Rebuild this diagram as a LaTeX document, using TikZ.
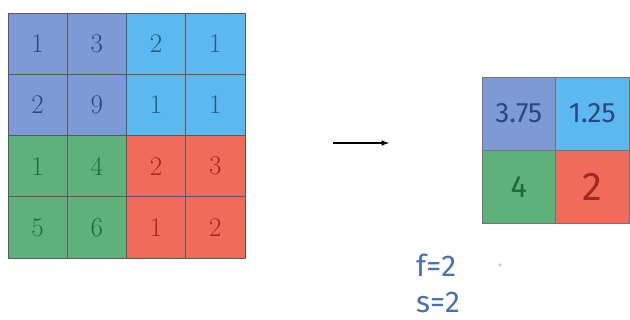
\documentclass[tikz,border=0pt]{standalone}
\usepackage{fontspec}
\newfontfamily\handfont{Fira Sans}

\definecolor{poolblue}{HTML}{7E9AD6}
\definecolor{poolsky}{HTML}{5CB9F0}
\definecolor{poolgreen}{HTML}{5FB17C}
\definecolor{poolred}{HTML}{F26B5A}
\definecolor{inkblue}{HTML}{2C4683}
\definecolor{inksky}{HTML}{1D5E88}
\definecolor{inkgreen}{HTML}{1E6A38}
\definecolor{inkred}{HTML}{A52622}
\definecolor{penblue}{HTML}{4B6FB3}

\begin{document}
\begin{tikzpicture}[x=1pt,y=-1pt,
  cell/.style={draw=black!65,line width=.6pt,minimum width=59.25pt,minimum height=61.25pt,
               inner sep=0pt,font=\fontsize{27}{32}\selectfont},
  outcell/.style={draw=black!55,line width=.6pt,minimum width=73.5pt,minimum height=73pt,
               inner sep=0pt,font=\handfont\fontsize{28}{32}\selectfont},
  note/.style={inner sep=0pt,text=penblue,font=\handfont\fontsize{30}{34}\selectfont}]
\useasboundingbox (0,0) rectangle (630,320);
% input 4x4
\node[cell,fill=poolblue,text=inkblue]   (a11) at (37.6,43.6)  {1};
\node[cell,fill=poolblue,text=inkblue]   (a12) at (96.9,43.6)  {3};
\node[cell,fill=poolsky,text=inksky]     (a13) at (156.1,43.6) {2};
\node[cell,fill=poolsky,text=inksky]     (a14) at (215.4,43.6) {1};
\node[cell,fill=poolblue,text=inkblue]   (a21) at (37.6,104.9)  {2};
\node[cell,fill=poolblue,text=inkblue]   (a22) at (96.9,104.9)  {9};
\node[cell,fill=poolsky,text=inksky]     (a23) at (156.1,104.9) {1};
\node[cell,fill=poolsky,text=inksky]     (a24) at (215.4,104.9) {1};
\node[cell,fill=poolgreen,text=inkgreen] (a31) at (37.6,166.1)  {1};
\node[cell,fill=poolgreen,text=inkgreen] (a32) at (96.9,166.1)  {4};
\node[cell,fill=poolred,text=inkred]     (a33) at (156.1,166.1) {2};
\node[cell,fill=poolred,text=inkred]     (a34) at (215.4,166.1) {3};
\node[cell,fill=poolgreen,text=inkgreen] (a41) at (37.6,227.4)  {5};
\node[cell,fill=poolgreen,text=inkgreen] (a42) at (96.9,227.4)  {6};
\node[cell,fill=poolred,text=inkred]     (a43) at (156.1,227.4) {1};
\node[cell,fill=poolred,text=inkred]     (a44) at (215.4,227.4) {2};
% arrow
\coordinate (arrL) at (333,143);
\coordinate (arrR) at (389,143);
\draw[line width=1.5pt,-latex] (arrL)--(arrR);
% pooled 2x2
\node[outcell,fill=poolblue,text=inkblue]   (b11) at (518.75,113.5) {3.75};
\node[outcell,fill=poolsky,text=inkblue]    (b12) at (592.25,113.5) {1.25};
\node[outcell,fill=poolgreen,text=inkgreen,font=\handfont\fontsize{31}{34}\selectfont] (b21) at (518.75,186.5) {4};
\node[outcell,fill=poolred,text=inkred,font=\handfont\fontsize{40}{44}\selectfont] (b22) at (592.25,186.5) {2};
% hyperparameters
\node[note,anchor=west] (fpar) at (416,265) {f=2};
\node[note,anchor=west] (spar) at (416,302) {s=2};
\node[circle,fill=black!20,inner sep=1.3pt] (dot) at (500,265) {};
\end{tikzpicture}
\end{document}
